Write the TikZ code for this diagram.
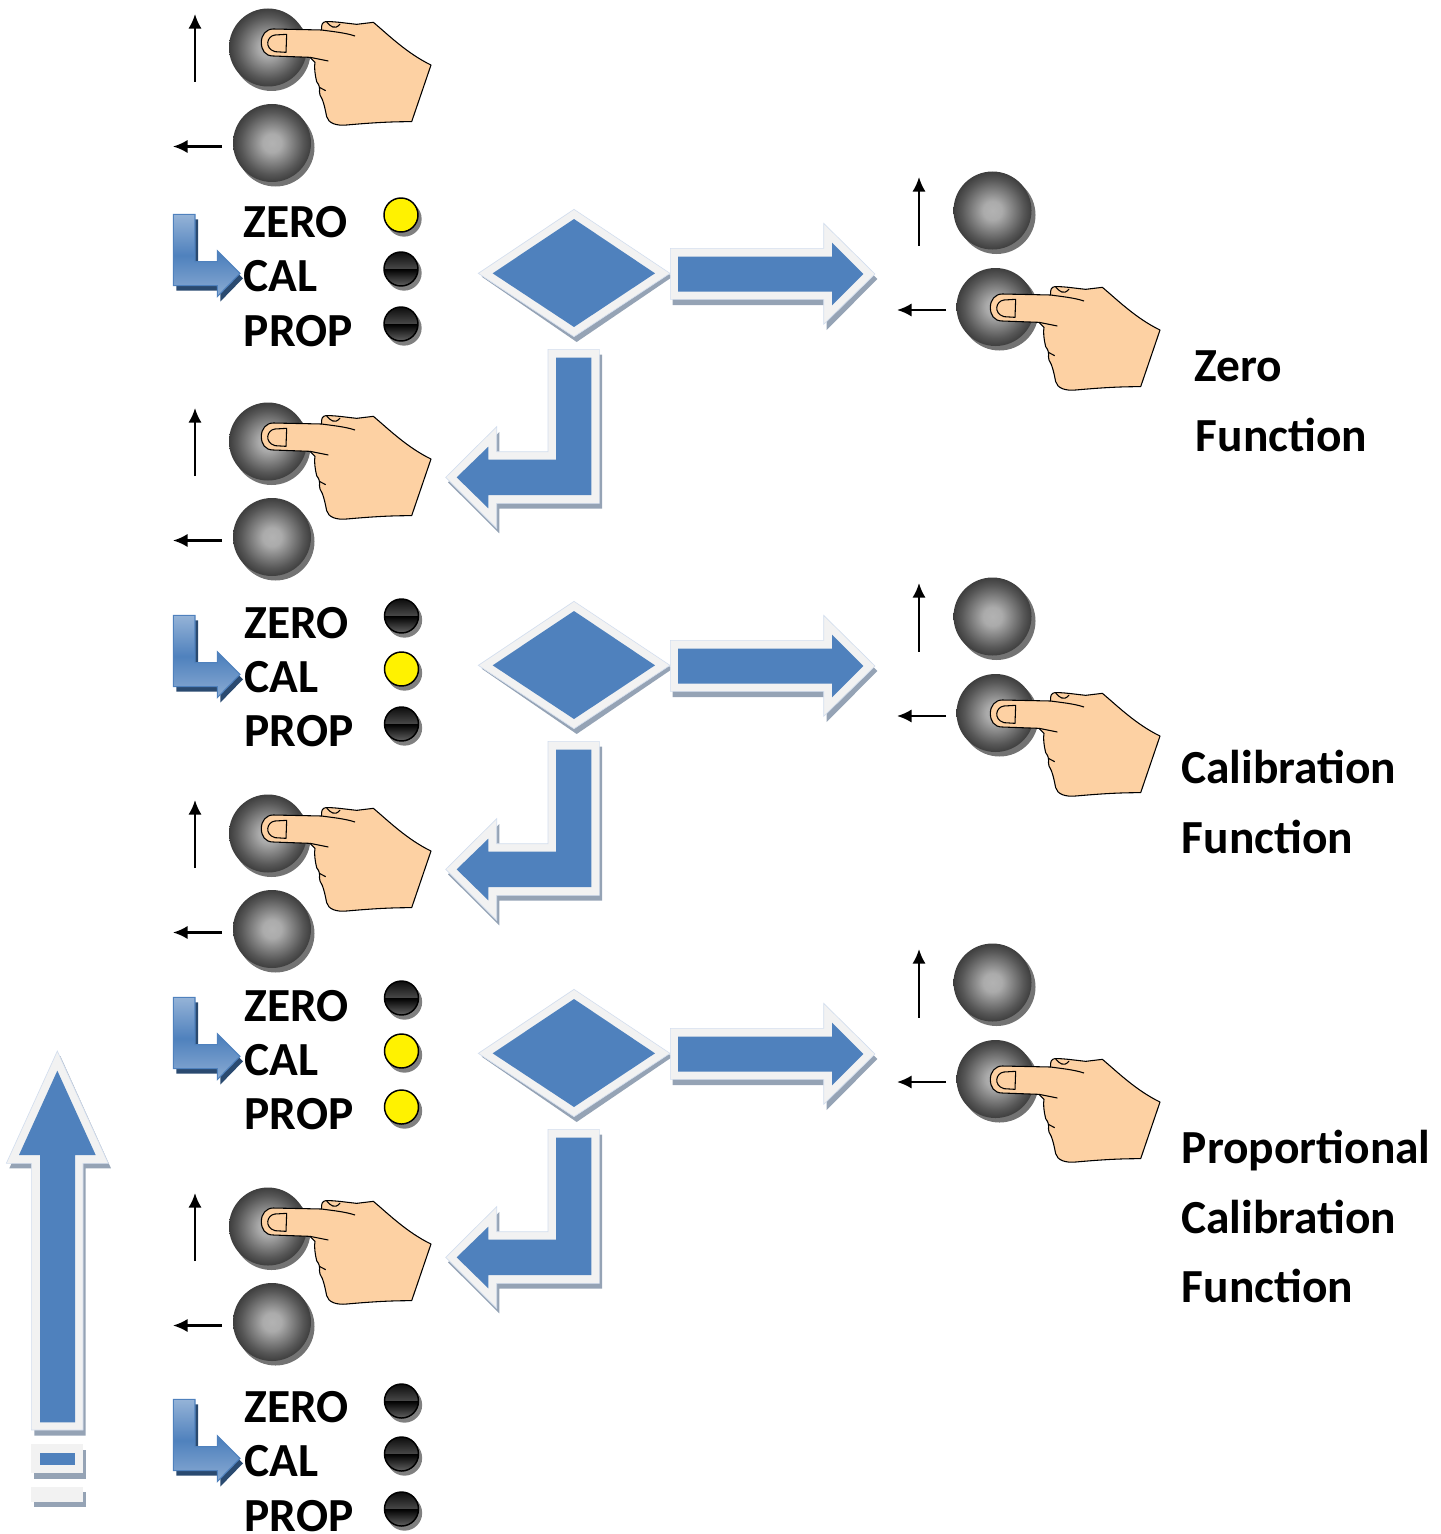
\documentclass[tikz,border=0pt]{standalone}
\usepackage{fontspec}
\setmainfont{Carlito}
\usetikzlibrary{arrows.meta}
\definecolor{blueA}{HTML}{4F81BD}
\definecolor{paleA}{HTML}{F2F2F2}
\definecolor{edgeA}{HTML}{D3DEEE}
\definecolor{shadeA}{HTML}{95A3B5}
\definecolor{lblue}{HTML}{95B3D7}
\definecolor{dblue}{HTML}{2A4A70}
\definecolor{handskin}{HTML}{FDD1A3}
\pgfdeclareradialshading{btnshade}{\pgfpoint{0bp}{0bp}}{color(0bp)=(black!30);color(6bp)=(black!33);color(20bp)=(black!66);color(35bp)=(black!95);color(50bp)=(black!95)}
\pgfdeclareverticalshading{ledshade}{100bp}{color(0bp)=(black!62);color(25bp)=(black!62);color(50bp)=(black);color(50.5bp)=(black!72);color(75bp)=(black!95);color(100bp)=(black!95)}
\tikzset{
  x=0.75pt,y=-0.75pt,
  btn/.style={circle,inner sep=0pt,minimum size=58.5pt,shading=btnshade},
  btnshadow/.style={circle,inner sep=0pt,minimum size=58.5pt,fill=black!55},
  led/.style={circle,inner sep=0pt,minimum size=25.5pt,draw=black,line width=1.1pt},
  ledoff/.style={led,shading=ledshade},
  ledon/.style={led,fill=yellow},
  ledshadow/.style={circle,inner sep=0pt,minimum size=26.5pt,fill=black!50},
  lab/.style={anchor=west,inner sep=0pt,text height=23pt,text depth=0pt,font=\fontsize{35.6pt}{38pt}\selectfont\bfseries},
  smallarrow/.style={-{Latex[length=11pt,width=10pt]},line width=1.7pt,black},
  shadowpart/.style={fill=shadeA,draw=none},
  outerpart/.style={fill=paleA,draw=edgeA,line width=0.5pt},
  innerpart/.style={fill=blueA,draw=none},
  handline/.style={draw=black,line width=0.8pt,line join=round},
}
\newcommand{\handshape}[2]{%
 \begin{scope}[shift={(#1,#2)},x=0.25pt,y=-0.25pt]
  \path[fill=handskin,handline]
   (340,87) -- (485,90) .. controls (483,75) and (487,66) .. (497,65)
   .. controls (520,64) and (545,68) .. (590,73) -- (640,67)
   .. controls (680,100) and (740,160) .. (813,195)
   -- (755,365) .. controls (690,365) and (640,368) .. (560,375)
   .. controls (530,378) and (505,370) .. (500,350)
   .. controls (495,325) and (490,300) .. (480,285)
   .. controls (475,270) and (485,265) .. (470,245)
   .. controls (465,225) and (462,200) .. (465,187)
   -- (450,172) -- (340,168)
   .. controls (315,168) and (304,150) .. (304,127)
   .. controls (304,105) and (318,87) .. (340,87) -- cycle;
  \draw[handline] (485,90) .. controls (520,95) and (555,98) .. (585,108);
  \draw[handline] (450,172) -- (505,183);
  \draw[handline] (478,262) -- (497,272);
  \draw[handline] (380,103) -- (345,105) .. controls (320,108) and (312,145) .. (345,155) -- (378,157) -- cycle;
  \draw[handline] (500,66) .. controls (510,78) and (525,92) .. (540,72);
 \end{scope}}
\begin{document}
\begin{tikzpicture}
\useasboundingbox (0,0) rectangle (1441,1534);
% left button groups
\foreach \dy [count=\gi] in {0,394,786,1179}{
 \begin{scope}[yshift=-0.75*\dy pt]
  \node[btnshadow] (sa\gi) at (271.5,52) {};
  \node[btn] (ba\gi) at (268,47.5) {};
  \node[btnshadow] (sb\gi) at (275.5,147.5) {};
  \node[btn] (bb\gi) at (272,143) {};
  \coordinate (ua\gi) at (195,82); \coordinate (ub\gi) at (195,14);
  \coordinate (la\gi) at (222,146.5); \coordinate (lb\gi) at (173,146.5);
  \draw[smallarrow] (ua\gi) -- (ub\gi);
  \draw[smallarrow] (la\gi) -- (lb\gi);
 \end{scope}
 \handshape{160}{\dy}
}
\foreach \gi/\lx/\zy/\cy/\py/\tz/\tc/\tp/\zs/\cs/\ps/\ax/\dy in
  {1/401/215/269/324/222/276/331/ledon/ledoff/ledoff/243.5/0,
   2/401.5/616/669/724/623/677/731/ledoff/ledon/ledoff/244.3/401,
   3/401.5/998/1051/1107/1006/1060/1114/ledoff/ledon/ledon/244.3/783,
   4/401.5/1401/1454/1509/1407/1461/1516/ledoff/ledoff/ledoff/244.3/1185}{
 \node[lab] (tz\gi) at (\ax,\tz) {ZERO};
 \node[lab] (tc\gi) at (\ax,\tc) {CAL};
 \node[lab] (tp\gi) at (\ax,\tp) {PROP};
 \node[ledshadow] at (\lx+3,\zy+4) {}; \node[\zs] (lz\gi) at (\lx,\zy) {};
 \node[ledshadow] at (\lx+3,\cy+4) {}; \node[\cs] (lc\gi) at (\lx,\cy) {};
 \node[ledshadow] at (\lx+3,\py+4) {}; \node[\ps] (lp\gi) at (\lx,\py) {};
 \begin{scope}[shift={(173.3,214.3+\dy)}]
  \path[fill=dblue] (3,5) -- (24.7,5) -- (24.7,52.3) -- (47,52.3) -- (47,41.3) -- (69.7,64) -- (47,87.3) -- (47,76.3) -- (3,76.3) -- cycle;
  \path[top color=lblue,bottom color=lblue!85!blueA,middle color=blueA,draw=blueA,line width=0.8pt]
    (0,0) -- (21.7,0) -- (21.7,47.3) -- (44,47.3) -- (44,36.3) -- (66.7,59) -- (44,82.3) -- (44,71.3) -- (0,71.3) -- cycle;
 \end{scope}
}
% flow shapes
\foreach \dy in {0,392,780}{
 \begin{scope}[shift={(440,200+\dy)},x=0.25pt,y=-0.25pt]
  \path[shadowpart] (125,230) -- (410,40) -- (698,230) -- (410,426) -- cycle;
  \path[outerpart] (115,220) -- (402,28) -- (690,220) -- (402,410) -- cycle;
  \path[innerpart] (158,220) -- (402,57) -- (645,220) -- (402,381) -- cycle;
  \path[shadowpart] (698,160) -- (1160,160) -- (1160,85) -- (1312,237) -- (1160,390) -- (1160,315) -- (698,315) -- cycle;
  \path[outerpart] (691,145) -- (1151,145) -- (1151,70) -- (1305,222) -- (1151,373) -- (1151,298) -- (691,298) -- cycle;
  \path[innerpart] (714,170) -- (1176,170) -- (1176,128) -- (1270,222) -- (1176,316) -- (1176,275) -- (714,275) -- cycle;
  \path[shadowpart] (332,464) -- (486,464) -- (486,926) -- (178,926) -- (178,1000) -- (24,847) -- (178,696) -- (178,770) -- (332,770) -- cycle;
  \path[outerpart] (324,448) -- (478,448) -- (478,910) -- (170,910) -- (170,985) -- (17,832) -- (170,680) -- (170,755) -- (324,755) -- cycle;
  \path[innerpart] (348,473) -- (454,473) -- (454,885) -- (145,885) -- (145,925) -- (50,832) -- (145,740) -- (145,779) -- (348,779) -- cycle;
 \end{scope}
}
% up arrow
\begin{scope}[shift={(0,1040)},x=0.25pt,y=-0.25pt]
 \path[shadowpart] (181,48) -- (333,385) -- (257,385) -- (257,1187) -- (103,1187) -- (103,385) -- (28,385) -- cycle;
 \path[outerpart] (172,33) -- (325,370) -- (249,370) -- (249,1170) -- (94,1170) -- (94,370) -- (19,370) -- cycle;
 \path[innerpart] (172,92) -- (287,345) -- (225,345) -- (225,1147) -- (120,1147) -- (120,345) -- (57,345) -- cycle;
 \path[shadowpart] (102,1229) rectangle (258,1316);
 \path[fill=paleA] (93,1213) rectangle (249,1298);
 \path[innerpart] (120,1238) rectangle (225,1275);
 \path[shadowpart] (102,1356) rectangle (258,1400);
 \path[fill=paleA] (93,1341) rectangle (249,1385);
\end{scope}
% right groups
\foreach \ri/\ty/\hy in {1/210.5/307/,2/616.5/713/,3/982.5/1079/}{
 \node[btnshadow] (rsa\ri) at (996.5,\ty+4.5) {};
 \node[btn] (rba\ri) at (992.5,\ty) {};
 \node[btnshadow] (rsb\ri) at (999.5,\hy+4.5) {};
 \node[btn] (rbb\ri) at (995.5,\hy) {};
 \coordinate (rua\ri) at (919,\ty+35); \coordinate (rub\ri) at (919,\ty-33.5);
 \coordinate (rla\ri) at (946,\hy+3); \coordinate (rlb\ri) at (897,\hy+3);
 \draw[smallarrow] (rua\ri) -- (rub\ri);
 \draw[smallarrow] (rla\ri) -- (rlb\ri);
 \pgfmathsetmacro{\hhy}{\hy-42}
 \handshape{889}{\hhy}
}
\node[lab] (t1) at (1194.5,366) {Zero};
\node[lab] (t2) at (1195.5,436) {Function};
\node[lab] (t3) at (1181,768) {Calibration};
\node[lab] (t4) at (1181.5,838) {Function};
\node[lab] (t5) at (1181.5,1148) {Proportional};
\node[lab] (t6) at (1181,1218) {Calibration};
\node[lab] (t7) at (1181.5,1287) {Function};
\end{tikzpicture}
\end{document}
